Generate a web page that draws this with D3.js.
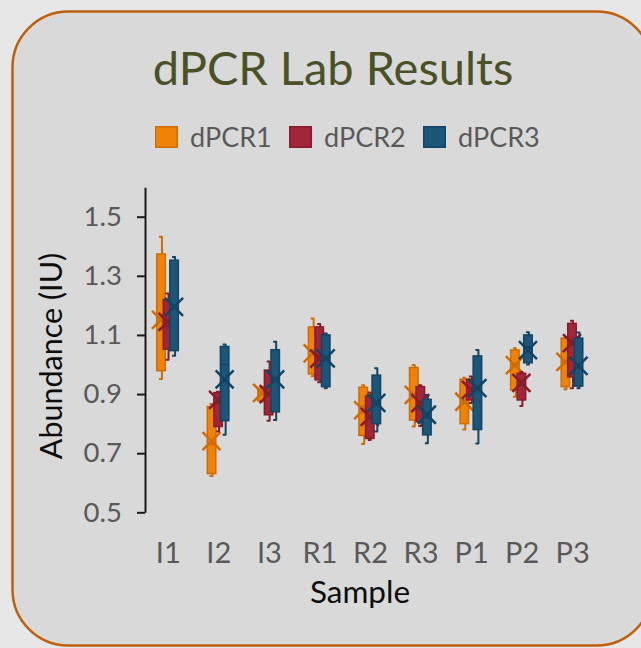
<!DOCTYPE html>
<html><head><meta charset="utf-8">
<script src="https://cdn.jsdelivr.net/npm/d3@7"></script>
<style>html,body{margin:0;padding:0;background:#e7e7e7;} svg{display:block;font-family:Lato,"Open Sans",sans-serif;}</style>
</head><body><svg id="c" width="641" height="648"></svg>
<script>
const categories = ["I1","I2","I3","R1","R2","R3","P1","P2","P3"];
const seriesNames = ["dPCR1","dPCR2","dPCR3"];
const yTicks = [0.5,0.7,0.9,1.1,1.3,1.5];
// each entry: [min, q1, median, q3, max, mean]
const dPCR1 = [
  [0.951,0.979,1.16,1.374,1.432,1.151],
  [0.623,0.631,0.73,0.858,0.866,0.741],
  [0.875,0.877,0.90,0.920,0.925,0.904],
  [0.960,0.968,1.05,1.127,1.156,1.038],
  [0.731,0.760,0.86,0.923,0.930,0.846],
  [0.790,0.812,0.90,0.990,0.998,0.897],
  [0.780,0.800,0.87,0.950,0.955,0.874],
  [0.891,0.914,1.00,1.049,1.055,0.998],
  [0.916,0.925,1.01,1.089,1.092,1.009]
];
const dPCR2 = [
  [1.016,1.052,1.13,1.220,1.240,1.144],
  [0.773,0.790,0.87,0.905,0.908,0.880],
  [0.810,0.830,0.90,0.981,1.010,0.900],
  [0.940,0.948,1.03,1.127,1.137,1.020],
  [0.745,0.750,0.82,0.893,0.905,0.823],
  [0.792,0.806,0.86,0.925,0.930,0.869],
  [0.870,0.880,0.92,0.950,0.959,0.914],
  [0.860,0.880,0.93,0.970,0.975,0.938],
  [0.920,0.958,1.08,1.139,1.148,1.072]
];
const dPCR3 = [
  [1.030,1.047,1.19,1.353,1.364,1.195],
  [0.762,0.810,1.00,1.061,1.068,0.950],
  [0.812,0.840,0.95,1.050,1.077,0.950],
  [0.920,0.925,1.02,1.100,1.105,1.021],
  [0.773,0.800,0.87,0.964,0.987,0.870],
  [0.734,0.762,0.82,0.882,0.897,0.830],
  [0.733,0.780,0.92,1.029,1.049,0.920],
  [1.000,1.006,1.06,1.100,1.109,1.049],
  [0.920,0.927,0.99,1.089,1.108,0.995]
];
const seriesData = [dPCR1, dPCR2, dPCR3];
const fills   = ["#f08208","#a12638","#1b5578"];
const strokes = ["#cf6c04","#861c2b","#134463"];

const svg = d3.select("#c");
// card
svg.append("rect").attr("x",12.5).attr("y",11.5).attr("width",640).attr("height",634)
  .attr("rx",56).attr("ry",56).attr("fill","#d9d9d9").attr("stroke","#bf600b").attr("stroke-width",2.5);

// title
svg.append("text").attr("x",333).attr("y",85).attr("text-anchor","middle")
  .attr("font-size",47).attr("fill","#4a5126").text("dPCR Lab Results");

// legend
const leg = svg.append("g");
seriesNames.forEach((n,i)=>{
  const gx = 155 + i*134;
  leg.append("rect").attr("x",gx+0.75).attr("y",126.75).attr("width",21.5).attr("height",20.5)
    .attr("fill",fills[i]).attr("stroke",strokes[i]).attr("stroke-width",1.5);
  leg.append("text").attr("x",gx+35).attr("y",147).attr("font-size",27).attr("fill","#595959").text(n);
});

const x = d3.scaleBand().domain(categories).range([143,598]);
const y = d3.scaleLinear().domain([0.5,1.6]).range([512.3, 512.3-1.1*295.6]);
const off = d3.scalePoint().domain(seriesNames).range([-7.3,5.8]);
const bw = 8.5;

// y axis
const ya = svg.append("g").attr("transform","translate(145,0)")
  .call(d3.axisLeft(y).tickValues(yTicks).tickSize(8).tickSizeOuter(0).tickPadding(15).tickFormat(d3.format(".1f")));
ya.select(".domain").attr("stroke","#1a1a1a").attr("stroke-width",2);
ya.selectAll(".tick line").attr("stroke","#1a1a1a").attr("stroke-width",2);
ya.selectAll(".tick text").attr("font-size",27.5).attr("fill","#595959").attr("font-family","Lato");

// x axis labels
const xa = svg.append("g").attr("transform","translate(0,512)")
  .call(d3.axisBottom(x).tickSize(0).tickPadding(30));
xa.select(".domain").remove();
xa.selectAll(".tick text").attr("font-size",29).attr("fill","#595959").attr("font-family","Lato");

// axis titles
svg.append("text").attr("transform","translate(62,356) rotate(-90)").attr("text-anchor","middle")
  .attr("font-size",30.5).attr("fill","#0d0d0d").text("Abundance (IU)");
svg.append("text").attr("x",360).attr("y",603).attr("text-anchor","middle")
  .attr("font-size",31.5).attr("fill","#0d0d0d").text("Sample");

// boxes
seriesData.forEach((arr,si)=>{
  const g = svg.append("g");
  arr.forEach((d,ci)=>{
    const cx = x(categories[ci]) + x.bandwidth()/2 + off(seriesNames[si]);
    const [mn,q1,md,q3,mx,mean] = d;
    const wx = cx + 1;
    // whiskers with small hooks
    g.append("path").attr("d",`M${wx},${y(q3)}L${wx},${y(mx)}L${wx-3},${y(mx)}`)
      .attr("fill","none").attr("stroke",strokes[si]).attr("stroke-width",2).attr("stroke-linejoin","round");
    g.append("path").attr("d",`M${wx},${y(q1)}L${wx},${y(mn)}L${wx-3},${y(mn)}`)
      .attr("fill","none").attr("stroke",strokes[si]).attr("stroke-width",2).attr("stroke-linejoin","round");
    g.append("rect").attr("x",cx-bw/2).attr("y",y(q3)).attr("width",bw).attr("height",y(q1)-y(q3))
      .attr("fill",fills[si]).attr("stroke",strokes[si]).attr("stroke-width",1.5);
    g.append("line").attr("x1",cx-bw/2).attr("x2",cx+bw/2).attr("y1",y(md)).attr("y2",y(md))
      .attr("stroke",strokes[si]).attr("stroke-width",1.5);
    const my = y(mean), a = 9;
    g.append("path").attr("d",`M${cx-a},${my-a}L${cx+a},${my+a}M${cx-a},${my+a}L${cx+a},${my-a}`)
      .attr("stroke",strokes[si]).attr("stroke-width",2.5).attr("fill","none");
  });
});
</script></body></html>
